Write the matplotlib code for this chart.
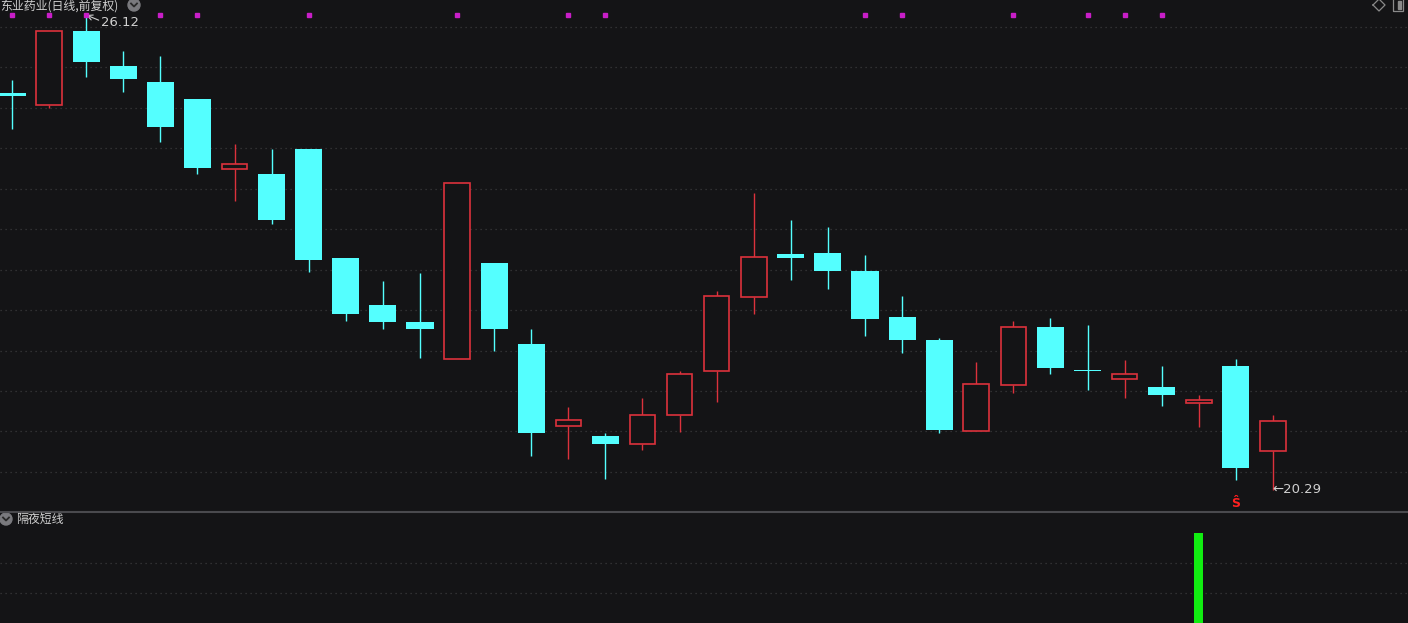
import numpy as np
import matplotlib.pyplot as plt
from matplotlib.lines import Line2D
from matplotlib.patches import Ellipse, Rectangle

plt.rcParams['font.family'] = ['Noto Sans CJK SC', 'DejaVu Sans']

# daily OHLC (qfq prices)
opens = [25.16, 25.02, 25.92, 25.49, 25.30, 25.09, 24.23, 24.17, 24.48, 23.14,
         22.56, 22.35, 21.90, 23.08, 22.08, 21.08, 20.95, 20.85, 21.21, 21.75,
         22.66, 23.19, 23.20, 22.98, 22.41, 22.13, 21.01, 21.58, 22.29, 21.75,
         21.65, 21.55, 21.36, 21.81, 20.77]
highs = [25.32, 25.92, 26.12, 25.68, 25.62, 25.09, 24.54, 24.48, 24.48, 23.14,
         22.86, 22.95, 24.06, 23.08, 22.27, 21.31, 20.99, 21.42, 21.75, 22.73,
         23.94, 23.60, 23.52, 23.17, 22.67, 22.16, 21.86, 22.36, 22.40, 22.32,
         21.89, 21.81, 21.46, 21.90, 21.21]
lows = [24.72, 24.98, 25.36, 25.17, 24.56, 24.17, 23.84, 23.55, 22.97, 22.36,
        22.27, 21.91, 21.90, 22.00, 20.71, 20.67, 20.43, 20.78, 21.00, 21.37,
        22.45, 22.87, 22.76, 22.18, 21.97, 20.99, 21.01, 21.48, 21.71, 21.52,
        21.42, 21.32, 21.06, 20.41, 20.29]
closes = [25.13, 25.92, 25.54, 25.33, 24.75, 24.24, 24.29, 23.60, 23.11, 22.45,
          22.35, 22.27, 24.06, 22.27, 20.99, 21.15, 20.85, 21.21, 21.71, 22.67,
          23.15, 23.14, 22.98, 22.39, 22.13, 21.03, 21.59, 22.29, 21.79, 21.75,
          21.71, 21.46, 21.39, 20.56, 21.14]
signal_days = [0, 1, 2, 4, 5, 8, 12, 15, 16, 23, 24, 27, 29, 30, 31]
overnight_days = [32]
overnight_vals = [3]
hi_label = "26.12"
lo_label = "20.29"

BG = '#141416'
UP = '#dc323c'
DOWN = '#54ffff'
GRID = '#3a3a3c'
TXT = '#d0d0d0'
W, H = 1408, 623

fig = plt.figure(figsize=(W / 100, H / 100), dpi=100, facecolor=BG)
ax = fig.add_axes([0, 112 / H, 1, 511 / H])
ax2 = fig.add_axes([0, 0, 1, 111 / H])
for a in (ax, ax2):
    a.set_facecolor(BG)
    a.set_axis_off()
    a.set_xlim(-0.3235, 37.64)
ax.set_ylim(20.032, 26.304)
ax2.set_ylim(0, 3.7)

# dotted grid
for lv in 25.973 - 0.4965 * np.arange(12):
    ax.axhline(lv, color=GRID, lw=0.9, ls=(0, (1, 3)), zorder=0)
for lv in [1, 2]:
    ax2.axhline(lv, color=GRID, lw=0.9, ls=(0, (1, 3)), zorder=0)

x = np.arange(len(opens))
o, h, l, c = map(np.array, (opens, highs, lows, closes))
up = c > o
dn = ~up
bw = 0.73

# falling candles: solid cyan
ax.vlines(x[dn], l[dn], h[dn], color=DOWN, lw=1, zorder=2)
body = np.maximum(o[dn] - c[dn], 0.012)
ax.bar(x[dn], body, bottom=c[dn], width=bw, color=DOWN, zorder=3)

# rising candles: hollow red
ax.vlines(x[up], c[up], h[up], color=UP, lw=1, zorder=2)
ax.vlines(x[up], l[up], o[up], color=UP, lw=1, zorder=2)
ax.bar(x[up], c[up] - o[up], bottom=o[up], width=bw - 0.04,
       facecolor=BG, edgecolor=UP, lw=1.2, zorder=3)

# signal dots along the top
ax.plot(signal_days, [0.9706] * len(signal_days), ls='none', marker='s',
        ms=2.6, color='#c81ec8', transform=ax.get_xaxis_transform(), zorder=4)

# extreme labels
ih = int(np.argmax(h))
ax.annotate(hi_label, xy=(ih, h[ih]), xytext=(11, -5.5), textcoords='offset points',
            color=TXT, fontsize=9.5, va='center', ha='left', family='DejaVu Sans',
            arrowprops=dict(arrowstyle='->', color=TXT, lw=0.8, shrinkA=0, shrinkB=0,
                            relpos=(0, 0.6)))
il = int(np.argmin(l))
ax.text(il - 0.03, l[il], '\u2190' + lo_label, color=TXT, fontsize=9.5,
        va='center', ha='left', family='DejaVu Sans')
ax.annotate('\u015c', xy=(33, l[33]), xytext=(0, -16.5), textcoords='offset points',
            color='#ff2020', fontsize=9, fontweight='bold', ha='center', va='center',
            family='DejaVu Sans')

# lower panel
ax2.bar(overnight_days, overnight_vals, width=0.25, color='#11ee11', zorder=3)

# panel separator
fig.add_artist(Line2D([0, 1], [1 - 511.5 / H] * 2, color='#4a4a4e', lw=1.5))


def fx(px):
    return px / W


def fy(py):
    return 1 - py / H


fig.text(fx(0), fy(6.5), '东业药业(日线,前复权)', color=TXT, fontsize=8.6,
         ha='left', va='center')
fig.text(fx(16), fy(519), '隔夜短线', color=TXT, fontsize=8.6,
         ha='left', va='center')

# round dropdown icons
for cx, cy in [(134, 5), (6, 519)]:
    fig.add_artist(Ellipse((fx(cx), fy(cy)), 12 / W, 12 / H, color='#7a7a7e',
                           transform=fig.transFigure))
    fig.add_artist(Line2D([fx(cx - 3), fx(cx), fx(cx + 3)],
                          [fy(cy - 1.5), fy(cy + 1.5), fy(cy - 1.5)],
                          color='#2a2a2a', lw=1.3))

# top right icons
fig.add_artist(Line2D([fx(1373), fx(1379), fx(1385), fx(1379), fx(1373)],
                      [fy(5), fy(-1), fy(5), fy(11), fy(5)], color='#8a8a8a', lw=0.9))
fig.add_artist(Rectangle((fx(1393), fy(11)), 10 / W, 12 / H, fill=False,
                         ec='#8a8a8a', lw=0.9, transform=fig.transFigure))
fig.add_artist(Rectangle((fx(1398), fy(9)), 3 / W, 8 / H, color='#8a8a8a',
                         transform=fig.transFigure))

fig.savefig('out.png', dpi=100, facecolor=BG)
